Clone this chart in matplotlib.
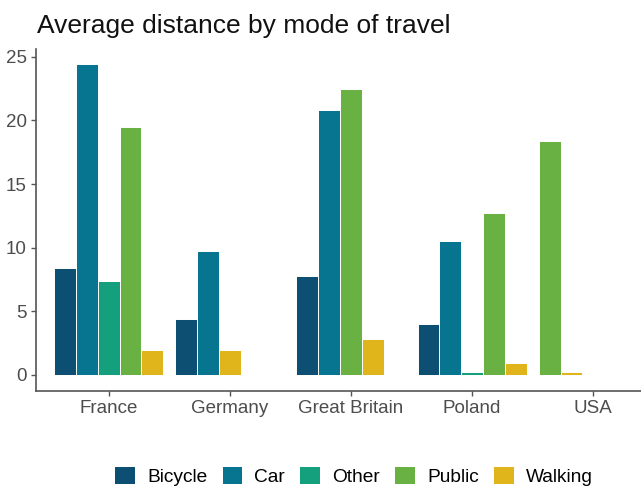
import matplotlib
matplotlib.use("Agg")
import matplotlib.pyplot as plt
from matplotlib.patches import Patch
import numpy as np

plt.rcParams['font.family'] = ['Liberation Sans', 'DejaVu Sans']

countries = ["France", "Germany", "Great Britain", "Poland", "USA"]
modes = ["Bicycle", "Car", "Other", "Public", "Walking"]
colors = ["#0d4f72", "#07758f", "#14a07c", "#69b143", "#e0b51b"]
# None = no bar for that combination
bicycle = [8.4, 4.4, 7.8, 4.0, None]
car = [24.4, 9.7, 20.8, 10.5, None]
other = [7.4, None, None, 0.2, None]
public = [19.45, None, 22.5, 12.75, 18.4]
walking = [2.0, 2.0, 2.85, 0.97, 0.24]
series = [bicycle, car, other, public, walking]
yticks = [0, 5, 10, 15, 20, 25]

W, H = 641, 488
fig = plt.figure(figsize=(W / 100, H / 100), dpi=100)
ax = fig.add_axes([36 / W, (H - 390.5) / H, 630 / W, 341.7 / H])

n = len(modes)
total_w = 0.9
bw = total_w / n
for ci, c in enumerate(countries):
    present = [mi for mi in range(n) if series[mi][ci] is not None]
    for slot, mi in enumerate(present):
        x = ci + 1 - total_w / 2 + bw * (slot + 0.5)
        ax.bar(x, series[mi][ci], width=bw, color=colors[mi],
               edgecolor="white", linewidth=0.7)

allv = [v for s in series for v in s if v is not None]
ymax = max(allv)
ax.set_ylim(-0.05 * ymax, 1.05 * ymax)
ax.set_xlim(0.4, len(countries) + 0.6)
ax.set_xticks(range(1, len(countries) + 1))
ax.set_xticklabels(countries)
ax.set_yticks(yticks)
ax.set_yticklabels([str(t) for t in yticks])

for s in ["top", "right"]:
    ax.spines[s].set_visible(False)
for s in ["left", "bottom"]:
    ax.spines[s].set_color("#555555")
    ax.spines[s].set_linewidth(1.2)
ax.tick_params(axis="both", colors="#555555", length=3.5, width=1.0,
               labelsize=13.5, labelcolor="#4d4d4d", pad=3)

fig.text(37 / W, (H - 26) / H, "Average distance by mode of travel",
         fontsize=19, color="#111111", va="center", ha="left")

handles = [Patch(facecolor=col, edgecolor="none", label=m) for m, col in zip(modes, colors)]
fig.legend(handles=handles, loc="center", ncol=5, frameon=False,
           bbox_to_anchor=(354 / W, (H - 476.5) / H), fontsize=13.8,
           handlelength=1.04, handleheight=1.04, handletextpad=0.62,
           columnspacing=0.8, borderpad=0.0, borderaxespad=0.0)

fig.savefig("out.png", dpi=100, facecolor="white")
